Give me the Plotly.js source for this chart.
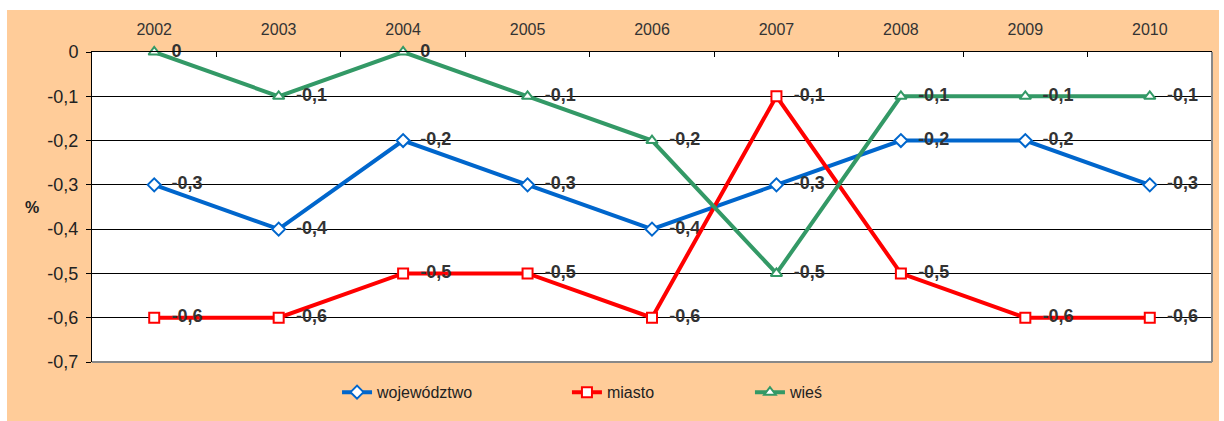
<!DOCTYPE html>
<html><head><meta charset="utf-8">
<script src="https://cdn.plot.ly/plotly-3.0.1.min.js"></script>
<style>
html,body{margin:0;padding:0;background:#fff;width:1224px;height:421px;overflow:hidden}
#chart{position:absolute;left:7px;top:10px;width:1212px;height:411px}
</style></head>
<body><div id="chart"></div>
<script>
const years = ['2002','2003','2004','2005','2006','2007','2008','2009','2010'];
const wojewodztwo = [-0.3,-0.4,-0.2,-0.3,-0.4,-0.3,-0.2,-0.2,-0.3];
const miasto = [-0.6,-0.6,-0.5,-0.5,-0.6,-0.1,-0.5,-0.6,-0.6];
const wies = [0,-0.1,0,-0.1,-0.2,-0.5,-0.1,-0.1,-0.1];
const yTicks = [0,-0.1,-0.2,-0.3,-0.4,-0.5,-0.6,-0.7];
const fmt = v => String(v).replace('.', ',');

function tr(name, y, color, symbol, legend) {
  return {
    x: years, y: y, name: name, type: 'scatter', mode: 'lines+markers+text',
    line: {color: color, width: 4},
    marker: {symbol: symbol, size: 10, color: '#fff', line: {color: color, width: 2}},
    text: y.map(v => '\u00a0\u00a0' + fmt(v)), textposition: 'middle right',
    textfont: {family: 'Liberation Sans, Arial, sans-serif', size: 18, color: '#333', weight: 'bold'},
    cliponaxis: false, legend: legend
  };
}
const data = [
  tr('województwo', wojewodztwo, '#0066CC', 'diamond', 'legend'),
  tr('miasto', miasto, '#FF0000', 'square', 'legend2'),
  tr('wieś', wies, '#339966', 'triangle-up', 'legend3')
];
const lg = (x) => ({orientation: 'h', xref: 'container', yref: 'container', x: x, y: 0.07, xanchor: 'left', yanchor: 'middle',
  bgcolor: 'rgba(0,0,0,0)', font: {family: 'Liberation Sans, Arial, sans-serif', size: 16, color: '#222'}});
const layout = {
  width: 1212, height: 411,
  paper_bgcolor: '#FFCC99', plot_bgcolor: '#FFFFFF',
  margin: {l: 85, r: 7, t: 42, b: 59},
  font: {family: 'Liberation Sans, Arial, sans-serif', color: '#222'},
  showlegend: true,
  legend: lg(0.2723), legend2: lg(0.462), legend3: lg(0.613),
  xaxis: {type: 'category', side: 'top', range: [-0.5, 8.5], tickson: 'boundaries',
    ticks: 'inside', ticklen: 5, tickcolor: '#000', showline: true, linecolor: '#000', linewidth: 1,
    showgrid: false, tickfont: {size: 16, color: '#333'}, ticklabelstandoff: 10, fixedrange: true},
  yaxis: {range: [-0.7, 0], tickvals: yTicks, ticktext: yTicks.map(fmt), ticks: 'outside', ticklen: 5,
    tickcolor: '#000', showline: true, linecolor: '#000', linewidth: 1, showgrid: true, gridcolor: '#000',
    gridwidth: 1, zeroline: false, tickfont: {size: 18, color: '#222'}, ticklabelstandoff: 4},
  shapes: [
    {type: 'line', xref: 'paper', yref: 'paper', x0: 1, x1: 1, y0: 0, y1: 1, line: {color: '#888', width: 2}},
    {type: 'line', xref: 'paper', yref: 'paper', x0: 0, x1: 1, y0: 0, y1: 0, line: {color: '#888', width: 2}}
  ],
  annotations: [{text: '%', xref: 'paper', yref: 'paper', x: -0.062, y: 0.5, showarrow: false,
    font: {size: 16, color: '#222', weight: 'bold'}}]
};
Plotly.newPlot('chart', data, layout, {displayModeBar: false, staticPlot: true});
</script></body></html>
